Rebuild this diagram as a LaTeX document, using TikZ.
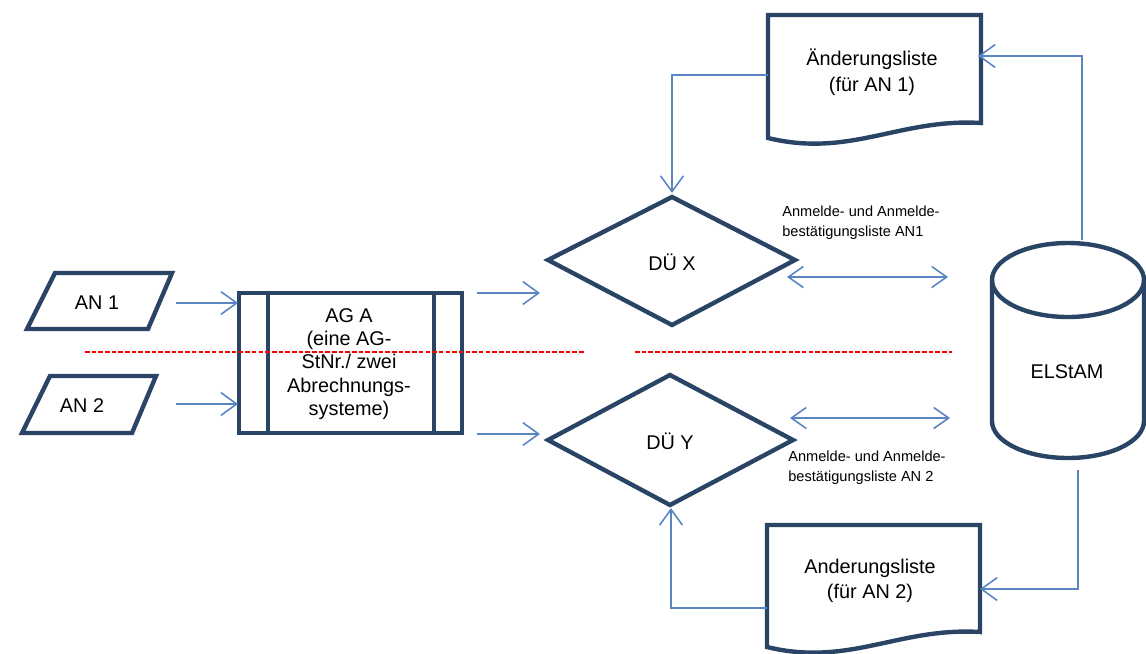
\documentclass[tikz,border=0pt]{standalone}
\usepackage{fontspec}
\setmainfont{Liberation Sans}
\usetikzlibrary{arrows.meta}
\definecolor{navy}{HTML}{2A4466}
\definecolor{conn}{HTML}{5A85C3}
\tikzset{
  shapeline/.style={draw=navy,line width=2.5pt},
  conline/.style={draw=conn,line width=0.9pt},
  arr/.style={conline,-{Straight Barb[length=9pt,width=13pt,line width=0.9pt]}},
  darr/.style={conline,{Straight Barb[length=8.5pt,width=12pt,line width=0.9pt]}-{Straight Barb[length=8.5pt,width=12pt,line width=0.9pt]}},
  sep/.style={draw=red,line width=0.6pt,dash pattern=on 2.6pt off 1.2pt},
  bigtext/.style={font=\fontsize{11.3}{13.2}\selectfont,text=black,align=center,inner sep=0pt},
  doctext/.style={font=\fontsize{11.3}{14.6}\selectfont,text=black,align=center,inner sep=0pt},
  smalltext/.style={font=\fontsize{8.3}{11.2}\selectfont,text=black,align=left,inner sep=0pt,anchor=west}
}
\begin{document}
\begin{tikzpicture}[x=0.02cm,y=-0.02cm]
\useasboundingbox (0,0) rectangle (1146,653);
% shapes
\draw[shapeline] (55,273) -- (172,273) -- (148,329) -- (27,329) -- cycle;
\draw[shapeline] (50,376) -- (156,376) -- (132,433) -- (22,433) -- cycle;
\draw[shapeline] (239,293) rectangle (462,433);
\draw[shapeline] (268,293) -- (268,433);
\draw[shapeline] (434,293) -- (434,433);
\draw[shapeline] (548,260) -- (672,197) -- (795,260) -- (672,325) -- cycle;
\draw[shapeline] (548,440) -- (670,375) -- (793,440) -- (670,505) -- cycle;
\draw[shapeline] (768,15) -- (981,15) -- (981,123) .. controls (900,118) and (850,158) .. (768,138) -- cycle;
\draw[shapeline] (767,525) -- (980,525) -- (980,632) .. controls (899,627) and (849,667) .. (767,647) -- cycle;
\draw[shapeline] (1068,280) ellipse [x radius=1.52cm, y radius=0.74cm];
\draw[shapeline] (992,280) -- (992,421) arc[start angle=180,end angle=360,x radius=1.52cm,y radius=0.74cm] -- (1144,280);
% separators
\draw[sep] (85,352) -- (585,352);
\draw[sep] (635,352) -- (952,352);
% texts
\node[bigtext] (an1) at (97,303) {AN 1};
\node[bigtext] (an2) at (82,406) {AN 2};
\node[bigtext] (ag) at (349,364) {AG A\\(eine AG-\\StNr./ zwei\\Abrechnungs-\\systeme)};
\node[bigtext] (dux) at (672,262) {DÜ X};
\node[bigtext] (duy) at (670,441) {DÜ Y};
\node[doctext] (doc1) at (872,72) {Änderungsliste\\(für AN 1)};
\node[doctext] (doc2) at (870,581) {Anderungsliste\\(für AN 2)};
\node[bigtext] (elstam) at (1067,372) {ELStAM};
\node[smalltext] (lab1) at (782,223) {Anmelde- und Anmelde-\\bestätigungsliste AN1};
\node[smalltext] (lab2) at (788,468) {Anmelde- und Anmelde-\\bestätigungsliste AN 2};
% connector endpoints
\coordinate (an1o) at (176,303);  \coordinate (agi1) at (238,303);
\coordinate (an2o) at (176,404);  \coordinate (agi2) at (238,404);
\coordinate (ago1) at (477,293);  \coordinate (duxi) at (540,293);
\coordinate (ago2) at (477,434);  \coordinate (duyi) at (540,434);
\coordinate (duxr) at (787,277);  \coordinate (elsx) at (948,277);
\coordinate (duyr) at (790,418);  \coordinate (elsy) at (950,418);
\coordinate (elsT) at (1082,240); \coordinate (doc1r) at (978,56);
\coordinate (doc1l) at (768,75);  \coordinate (duxt) at (672,193);
\coordinate (elsB) at (1078,470); \coordinate (doc2r) at (980,589);
\coordinate (doc2l) at (767,608); \coordinate (duyb) at (671,508);
% connectors
\draw[arr] (an1o) -- (agi1);
\draw[arr] (an2o) -- (agi2);
\draw[arr] (ago1) -- (duxi);
\draw[arr] (ago2) -- (duyi);
\draw[darr] (duxr) -- (elsx);
\draw[darr] (duyr) -- (elsy);
\draw[arr] (elsT) |- (doc1r);
\draw[arr] (doc1l) -| (duxt);
\draw[arr] (elsB) |- (doc2r);
\draw[arr] (doc2l) -| (duyb);
\end{tikzpicture}
\end{document}
